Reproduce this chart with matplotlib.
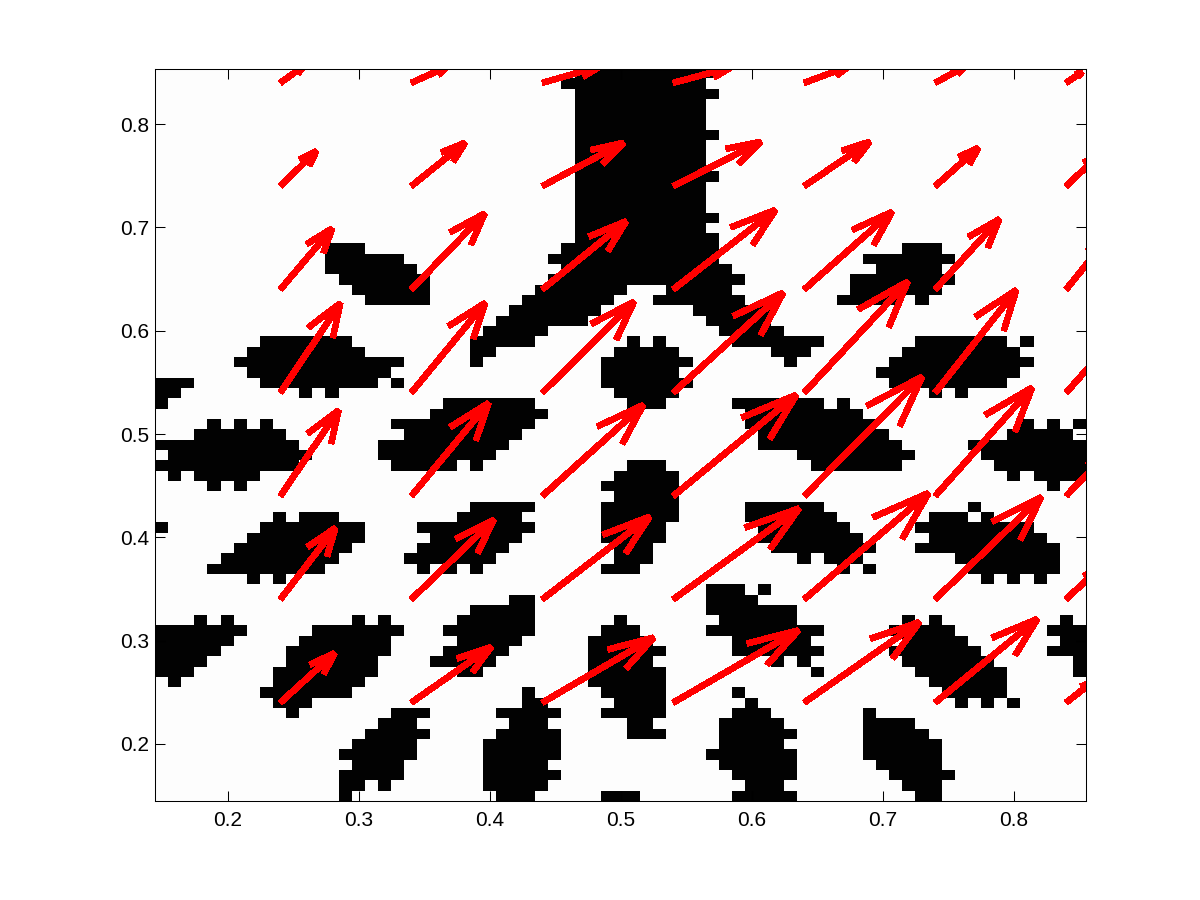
import numpy as np
import matplotlib
matplotlib.use('Agg')
import matplotlib.pyplot as plt

plt.rcParams['font.family'] = ['Liberation Sans', 'DejaVu Sans']

# black runs per row of the 71x71 grid, top row first, (first col, end col)
black_runs = [
    [(32, 43)], [(31, 42)], [(32, 43)], [(32, 42)], [(32, 42)], [(32, 42)],
    [(32, 43)], [(32, 42)], [(32, 42)], [(32, 42)], [(32, 43)], [(32, 42)],
    [(32, 42)], [(32, 42)], [(32, 43)], [(32, 42)], [(32, 43)],
    [(13, 16), (31, 43), (57, 60)],
    [(13, 19), (30, 43), (54, 61)],
    [(13, 20), (31, 44), (55, 60)],
    [(14, 21), (30, 45), (53, 61)],
    [(15, 21), (29, 36), (39, 44), (53, 60)],
    [(16, 21), (28, 35), (38, 45), (52, 57), (58, 59)],
    [(27, 34), (41, 47)],
    [(26, 33), (42, 47)],
    [(25, 30), (43, 48)],
    [(8, 15), (24, 29), (36, 37), (38, 39), (44, 51), (58, 65), (66, 67)],
    [(7, 16), (24, 26), (35, 40), (47, 50), (57, 66)],
    [(6, 19), (24, 25), (34, 41), (48, 49), (56, 67)],
    [(7, 18), (34, 40), (55, 66)],
    [(0, 3), (8, 17), (18, 19), (34, 41), (56, 65)],
    [(0, 2), (11, 12), (13, 14), (35, 40), (59, 60), (61, 62)],
    [(0, 1), (22, 29), (36, 39), (44, 51), (52, 53)],
    [(21, 30), (45, 54)],
    [(4, 5), (6, 7), (8, 9), (18, 29), (45, 55), (66, 67), (68, 69), (70, 71)],
    [(3, 10), (19, 28), (46, 56), (65, 70)],
    [(0, 11), (17, 27), (46, 57), (62, 71)],
    [(1, 12), (17, 26), (49, 58), (63, 71)],
    [(0, 11), (18, 23), (24, 25), (36, 39), (50, 57), (64, 71)],
    [(1, 2), (3, 8), (35, 40), (65, 66), (67, 71)],
    [(4, 5), (6, 7), (34, 40), (68, 69)],
    [(35, 40)],
    [(24, 29), (34, 40), (45, 51), (62, 63)],
    [(9, 10), (11, 14), (23, 28), (34, 40), (45, 52), (59, 62), (63, 64)],
    [(0, 1), (8, 16), (20, 29), (34, 39), (46, 53), (58, 67)],
    [(7, 16), (21, 28), (34, 39), (46, 54), (59, 68)],
    [(6, 15), (20, 27), (35, 38), (47, 55), (58, 69)],
    [(5, 14), (19, 26), (35, 38), (49, 50), (51, 54), (61, 69)],
    [(4, 13), (20, 21), (22, 23), (24, 25), (34, 37), (52, 53), (54, 55), (62, 69)],
    [(7, 8), (9, 10), (63, 64), (65, 66), (67, 68)],
    [(42, 45), (46, 47)],
    [(27, 29), (42, 46)],
    [(24, 29), (42, 49)],
    [(3, 4), (5, 6), (15, 16), (17, 18), (23, 29), (35, 36), (43, 49), (57, 58), (59, 60), (69, 70)],
    [(0, 7), (12, 19), (22, 29), (34, 37), (42, 51), (56, 61), (68, 71)],
    [(0, 6), (11, 18), (23, 28), (33, 38), (44, 50), (57, 62), (69, 71)],
    [(0, 5), (10, 18), (22, 27), (33, 39), (44, 51), (56, 63), (68, 71)],
    [(0, 4), (10, 17), (21, 26), (33, 38), (47, 48), (49, 50), (57, 64), (70, 71)],
    [(0, 3), (9, 17), (23, 25), (33, 39), (50, 51), (58, 65), (70, 71)],
    [(1, 2), (9, 16), (33, 39), (59, 65)],
    [(8, 15), (28, 29), (34, 39), (44, 45), (60, 65)],
    [(9, 12), (28, 30), (35, 39), (45, 46), (61, 62), (63, 64), (65, 66)],
    [(10, 11), (18, 21), (26, 31), (34, 39), (44, 47), (54, 55)],
    [(17, 20), (27, 30), (36, 38), (43, 48), (54, 58)],
    [(16, 21), (26, 31), (36, 39), (43, 49), (54, 59)],
    [(15, 20), (25, 31), (43, 48), (54, 60)],
    [(14, 20), (25, 31), (42, 49), (54, 60)],
    [(15, 19), (25, 30), (43, 49), (55, 60)],
    [(14, 19), (25, 31), (44, 49), (56, 61)],
    [(14, 16), (17, 18), (25, 30), (45, 48), (57, 60)],
    [(14, 15), (26, 29), (34, 37), (44, 49), (58, 60)],
]

arrow_x = [0.24, 0.34, 0.44, 0.54, 0.64, 0.74, 0.84]
arrow_y = [0.84, 0.74, 0.64, 0.54, 0.44, 0.34, 0.24]

# one row per arrow_y, one column per arrow_x
arrow_u = [
    [0.0175, 0.028, 0.044, 0.044, 0.034, 0.023, 0.012],
    [0.0275, 0.041, 0.062, 0.067, 0.050, 0.033, 0.025],
    [0.0395, 0.056, 0.064, 0.078, 0.067, 0.049, 0.032],
    [0.0458, 0.0565, 0.070, 0.084, 0.079, 0.062, 0.035],
    [0.0445, 0.059, 0.077, 0.094, 0.090, 0.074, 0.030],
    [0.042, 0.063, 0.082, 0.096, 0.095, 0.081, 0.025],
    [0.0415, 0.061, 0.085, 0.0955, 0.088, 0.078, 0.020],
]
arrow_v = [
    [0.016, 0.016, 0.016, 0.015, 0.016, 0.016, 0.0105],
    [0.034, 0.042, 0.042, 0.043, 0.043, 0.037, 0.030],
    [0.059, 0.0735, 0.066, 0.077, 0.075, 0.068, 0.050],
    [0.0866, 0.087, 0.088, 0.097, 0.1075, 0.0995, 0.050],
    [0.083, 0.090, 0.088, 0.098, 0.1155, 0.105, 0.040],
    [0.069, 0.077, 0.080, 0.088, 0.103, 0.099, 0.030],
    [0.048, 0.054, 0.063, 0.070, 0.078, 0.081, 0.020],
]

xticks = [0.2, 0.3, 0.4, 0.5, 0.6, 0.7, 0.8]
yticks = [0.2, 0.3, 0.4, 0.5, 0.6, 0.7, 0.8]
xlim = (0.1443, 0.8552)
ylim = (0.1448, 0.8539)

grid = np.full((71, 71), 0.99)
for r, runs in enumerate(black_runs):
    for a, b in runs:
        grid[r, a:b] = 0.01

fig = plt.figure(figsize=(12, 9), dpi=100)
ax = fig.add_axes([155 / 1200, 1 - 801 / 900, 931 / 1200, 732.5 / 900])
ax.imshow(grid, cmap='gray', vmin=0, vmax=1, extent=(xlim[0], xlim[1], ylim[0], ylim[1]),
          origin='upper', interpolation='nearest', aspect='auto')

# quiver head as matlab builds it, in data units
alpha = 0.33
beta = 0.33
for j, y in enumerate(arrow_y):
    for i, x in enumerate(arrow_x):
        u = arrow_u[j][i]
        v = arrow_v[j][i]
        tx, ty = x + u, y + v
        hx = [tx - alpha * (u + beta * v), tx, tx - alpha * (u - beta * v)]
        hy = [ty - alpha * (v - beta * u), ty, ty - alpha * (v + beta * u)]
        ax.plot([x, tx], [y, ty], color='#ff0000', lw=4.0, solid_capstyle='butt',
                antialiased=False)
        ax.plot(hx, hy, color='#ff0000', lw=4.0, solid_capstyle='butt',
                solid_joinstyle='bevel', antialiased=False)

ax.set_xlim(xlim)
ax.set_ylim(ylim)
ax.set_xticks(xticks)
ax.set_yticks(yticks)
ax.set_xticklabels(['%.1f' % t for t in xticks])
ax.set_yticklabels(['%.1f' % t for t in yticks])
ax.tick_params(direction='in', length=7, width=0.75, top=True, right=True, labelsize=15)
ax.tick_params(axis='x', pad=7.5)
ax.tick_params(axis='y', pad=4)
for s in ax.spines.values():
    s.set_linewidth(0.75)

fig.savefig('out.png', dpi=100)
